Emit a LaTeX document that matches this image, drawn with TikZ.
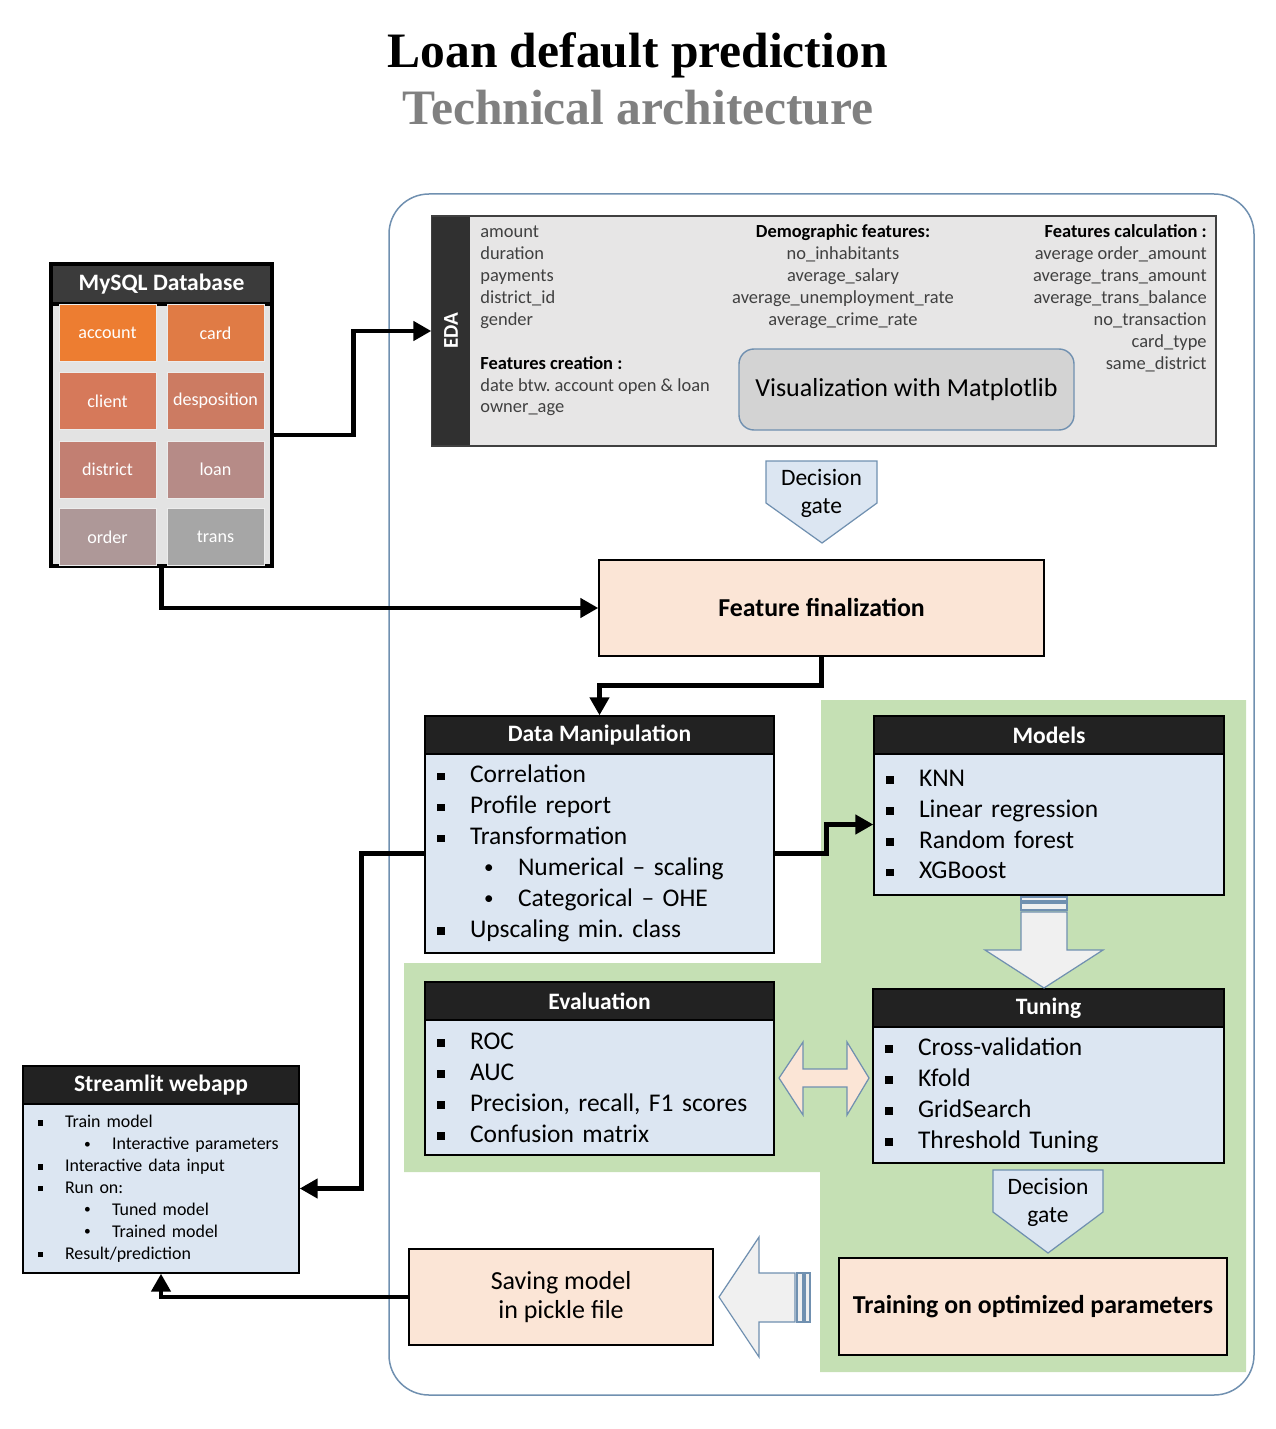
\documentclass[tikz,border=0pt]{standalone}
\usepackage{fontspec}
\setmainfont{Carlito}
\newfontfamily\titlefont{Liberation Serif}
\usetikzlibrary{arrows.meta}
\frenchspacing

\newdimen\pxu \pxu=0.02cm
\newcommand{\sqi}[1]{\makebox[#1][l]{\rule[0.1em]{0.3em}{0.3em}}}
\newcommand{\dti}[2]{\hspace*{#1}\makebox[#2][l]{\raisebox{0.08em}{\scalebox{0.75}{\textbullet}}}}

\definecolor{hdark}{HTML}{222222}
\definecolor{dbhead}{HTML}{3B3B3B}
\definecolor{dbgray}{HTML}{E3E3E3}
\definecolor{bodyblue}{HTML}{DCE6F2}
\definecolor{peach}{HTML}{FBE5D6}
\definecolor{greenbg}{HTML}{C5E0B4}
\definecolor{steel}{HTML}{7090B0}
\definecolor{edagray}{HTML}{E7E6E6}
\definecolor{edabar}{HTML}{303030}
\definecolor{vizgray}{HTML}{D3D3D3}
\definecolor{arrgray}{HTML}{F0F0F0}
\definecolor{txtgray}{HTML}{404040}
\definecolor{titlegray}{HTML}{808080}
\definecolor{cA}{HTML}{ED7D31}
\definecolor{cB}{HTML}{E07B45}
\definecolor{cC}{HTML}{D6795A}
\definecolor{cD}{HTML}{CC7B62}
\definecolor{cE}{HTML}{C27F72}
\definecolor{cF}{HTML}{B68B87}
\definecolor{cG}{HTML}{AE9898}
\definecolor{cH}{HTML}{A6A6A6}

\tikzset{
  flow/.style={line width=0.095cm, -{Triangle[length=0.36cm,width=0.38cm]}},
  outerframe/.style={draw=steel, line width=0.03cm, rounded corners=0.8cm},
  hdr/.style={draw=black, fill=hdark, text=white, line width=0.8pt, inner sep=0pt,
    minimum height=38\pxu, font=\fontsize{13.4}{16}\selectfont\bfseries},
  lbody/.style={draw=black, fill=bodyblue, line width=0.8pt, align=left,
    inner xsep=12\pxu, inner ysep=0pt, font=\fontsize{14.5}{17.6}\selectfont},
  cell/.style={draw=white!85!gray, line width=0.4pt, minimum width=97\pxu, minimum height=57\pxu,
    inner sep=0pt, text=white, font=\fontsize{10.3}{12}\selectfont},
  peachbox/.style={draw=black, fill=peach, line width=0.8pt, align=center, inner sep=0pt},
  gatebox/.style={draw=steel, fill=bodyblue, line width=0.7pt},
  gatetxt/.style={align=center, font=\fontsize{13.4}{15.9}\selectfont},
  blockarr/.style={draw=steel, fill=arrgray, line width=0.7pt},
  edatxt/.style={inner sep=0pt, text=txtgray, font=\fontsize{10.5}{12.47}\selectfont}
}

\begin{document}
\begin{tikzpicture}[x=0.02cm, y=-0.02cm]
\useasboundingbox (0,0) rectangle (1275,1429);

\node[font=\titlefont\bfseries\fontsize{28.2}{34}\selectfont, anchor=base] (title) at (637.5,68) {Loan default prediction};
\node[font=\titlefont\bfseries\fontsize{28.2}{34}\selectfont, text=titlegray, anchor=base] (subtitle) at (638,125) {Technical architecture};

% frame and green zone
\draw[outerframe] (389,194) rectangle (1254,1395);
\fill[greenbg] (821,700) -- (1246,700) -- (1246,1372) -- (820,1372) -- (820,1172)
  -- (404,1172) -- (404,963) -- (821,963) -- cycle;

% database
\node[draw=black, fill=dbgray, line width=0.07cm, minimum width=221\pxu, minimum height=302\pxu] (mysql) at (161.5,415) {};
\node[draw=black, fill=dbhead, line width=0.07cm, text=white, minimum width=221\pxu, minimum height=40\pxu,
  font=\fontsize{13.4}{16}\selectfont\bfseries] (mysqlhead) at (161.5,284) {MySQL Database};
\node[cell, fill=cA] (account) at (107.5,333) {account};
\node[cell, fill=cB] (card) at (215.5,333) {card};
\node[cell, fill=cC] (client) at (107.5,401) {client};
\node[cell, fill=cD] (desposition) at (215.5,401) {desposition};
\node[cell, fill=cE] (district) at (107.5,469.5) {district};
\node[cell, fill=cF] (loan) at (215.5,469.5) {loan};
\node[cell, fill=cG] (order) at (107.5,537) {order};
\node[cell, fill=cH] (trans) at (215.5,537) {trans};

% EDA
\node[draw=txtgray, fill=edagray, line width=0.8pt, minimum width=784\pxu, minimum height=230\pxu] (eda) at (824,331) {};
\node[fill=edabar, rotate=90, text=white, minimum width=228\pxu, minimum height=38\pxu, inner sep=0pt,
  font=\fontsize{12}{14}\selectfont\bfseries] (edabar) at (451,331) {EDA};
\node[edatxt, anchor=north west, align=left] (edaleft) at (480,222) {\strut amount\\duration\\payments\\district\_id\\gender\\[12.47pt]
  \textcolor{black}{\textbf{Features creation :}}\\date btw. account open \& loan\\owner\_age};
\node[edatxt, anchor=north, align=center] (edamid) at (843,222) {\strut\textcolor{black}{\textbf{Demographic features:}}\\no\_inhabitants\\average\_salary\\
  average\_unemployment\_rate\\average\_crime\_rate};
\node[edatxt, anchor=north east, align=right] (edaright) at (1207,222) {\strut\textcolor{black}{\textbf{Features calculation :}}\\average order\_amount\\
  average\_trans\_amount\\average\_trans\_balance\\no\_transaction\\card\_type\\same\_district};
\node[draw=steel, fill=vizgray, line width=0.8pt, rounded corners=0.3cm, minimum width=335\pxu, minimum height=81\pxu,
  font=\fontsize{14.8}{18}\selectfont] (viz) at (906.5,389.5) {Visualization with Matplotlib};

% gate 1 and feature box
\draw[gatebox] (766,461) -- (877,461) -- (877,503) -- (822,543) -- (766,503) -- cycle;
\node[gatetxt] (gate1) at (821.5,493) {Decision\\gate};
\node[peachbox, minimum width=445\pxu, minimum height=96\pxu, font=\fontsize{14.7}{18}\selectfont\bfseries] (feat) at (821.5,608) {Feature finalization};

% data manipulation
\node[hdr, minimum width=349\pxu] (dmhead) at (599.5,735) {Data Manipulation};
\node[lbody, text width=325\pxu, minimum height=199\pxu] (dmbody) at (599.5,853.5) {\sqi{33\pxu}Correlation\\\sqi{33\pxu}Profile report\\
  \sqi{33\pxu}Transformation\\\dti{47\pxu}{34\pxu}Numerical -- scaling\\\dti{47\pxu}{34\pxu}Categorical -- OHE\\\sqi{33\pxu}Upscaling min. class};

% models
\node[hdr, minimum width=350\pxu] (mdhead) at (1049,735) {Models};
\node[lbody, text width=326\pxu, minimum height=141\pxu] (mdbody) at (1049,824.5) {\sqi{33\pxu}KNN\\\sqi{33\pxu}Linear regression\\
  \sqi{33\pxu}Random forest\\\sqi{33\pxu}XGBoost};

% evaluation
\node[hdr, minimum width=349\pxu] (evhead) at (599.5,1001) {Evaluation};
\node[lbody, text width=325\pxu, minimum height=135\pxu] (evbody) at (599.5,1087.5) {\sqi{33\pxu}ROC\\\sqi{33\pxu}AUC\\
  \sqi{33\pxu}Precision, recall, F1 scores\\\sqi{33\pxu}Confusion matrix};

% tuning
\node[hdr, minimum width=351\pxu] (tnhead) at (1048.5,1008) {Tuning};
\node[lbody, text width=327\pxu, minimum height=136\pxu] (tnbody) at (1048.5,1095) {\sqi{33\pxu}Cross-validation\\\sqi{33\pxu}Kfold\\
  \sqi{33\pxu}GridSearch\\\sqi{33\pxu}Threshold Tuning};

% block arrows
\draw[blockarr] (1021,897) rectangle (1067,901);
\draw[blockarr] (1021,903) rectangle (1067,910);
\draw[blockarr] (1021,912) -- (1067,912) -- (1067,950) -- (1103,950) -- (1044,988) -- (985,950) -- (1021,950) -- cycle;
\draw[blockarr, fill=peach] (779,1078) -- (803,1042) -- (803,1069) -- (847,1069) -- (847,1042) -- (869,1078)
  -- (847,1115) -- (847,1087) -- (803,1087) -- (803,1115) -- cycle;
\draw[blockarr] (797,1273) rectangle (803,1322);
\draw[blockarr] (805,1273) rectangle (810,1322);
\draw[blockarr] (795,1273) -- (759,1273) -- (759,1237) -- (719,1297) -- (759,1357) -- (759,1322) -- (795,1322) -- cycle;

% gate 2, training, saving
\draw[gatebox] (993,1170) -- (1103,1170) -- (1103,1212) -- (1048,1253) -- (993,1212) -- cycle;
\node[gatetxt] (gate2) at (1048,1202) {Decision\\gate};
\node[peachbox, minimum width=388\pxu, minimum height=97\pxu, font=\fontsize{14.7}{18}\selectfont\bfseries] (train) at (1033,1306.5) {Training on optimized parameters};
\node[peachbox, minimum width=304\pxu, minimum height=96\pxu, font=\fontsize{14.8}{17}\selectfont] (save) at (561,1297) {Saving model\\in pickle file};

% streamlit
\node[hdr, minimum width=276\pxu] (sthead) at (161,1085) {Streamlit webapp};
\node[lbody, text width=246\pxu, inner xsep=15\pxu, minimum height=169\pxu, font=\fontsize{10.2}{12.47}\selectfont] (stbody) at (161,1188.5) {\sqi{27\pxu}Train model\\
  \dti{46\pxu}{28\pxu}Interactive parameters\\\sqi{27\pxu}Interactive data input\\\sqi{27\pxu}Run on:\\
  \dti{46\pxu}{28\pxu}Tuned model\\\dti{46\pxu}{28\pxu}Trained model\\\sqi{27\pxu}Result/prediction};

% connectors
\draw[flow] ([yshift=-20\pxu]mysql.east) -- ++(80,0) |- (eda.west);
\draw[flow] (mysql.south) |- (feat.west);
\draw[flow] (feat.south) -- ++(0,29) -| (dmhead.north);
\draw[flow] (dmbody.east) -- ++(52,0) |- (mdbody.west);
\draw[flow] (dmbody.west) -- ++(-63,0) |- (stbody.east);
\draw[flow] (save.west) -| (stbody.south);
\end{tikzpicture}
\end{document}
